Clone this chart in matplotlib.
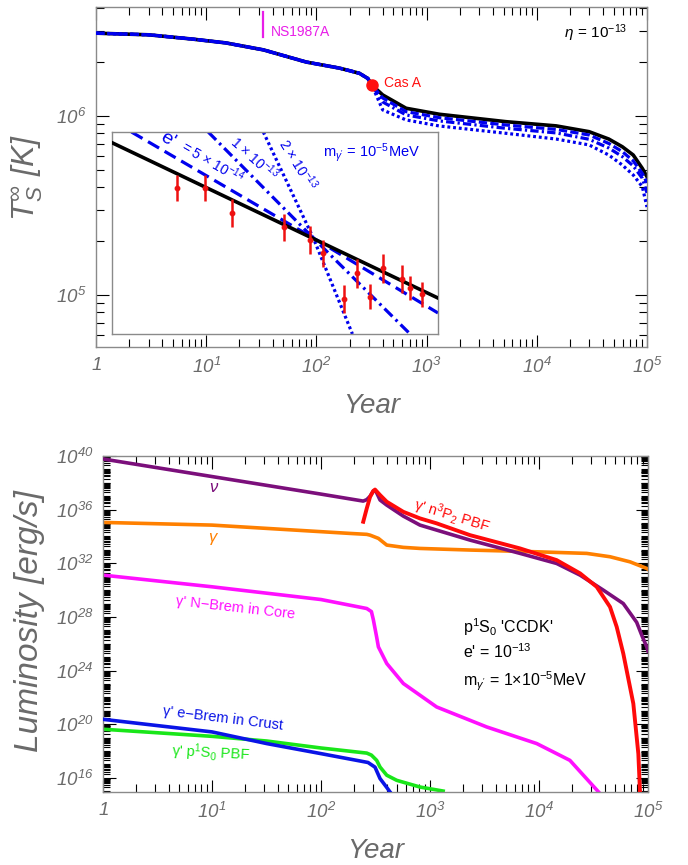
import numpy as np
import matplotlib
matplotlib.use("Agg")
import matplotlib.pyplot as plt
from matplotlib.ticker import FixedLocator, LogLocator, NullFormatter, FuncFormatter

plt.rcParams['font.family'] = ['Liberation Sans', 'DejaVu Sans']
plt.rcParams['mathtext.fontset'] = 'custom'
plt.rcParams['mathtext.rm'] = 'Liberation Sans'
plt.rcParams['mathtext.it'] = 'Liberation Sans:italic'
plt.rcParams['mathtext.sf'] = 'Liberation Sans:italic'
plt.rcParams['mathtext.bf'] = 'Liberation Sans:bold'

GRAY = '#6a6a6a'
FRAME = '#8a8a8a'

# ---------------- top panel: surface temperature vs age
t_early = [1, 3, 7.4, 15, 33, 81, 162, 200, 246, 293]
T_early = [2.90e6, 2.84e6, 2.69e6, 2.56e6, 2.34e6, 2.00e6, 1.85e6, 1.79e6, 1.73e6, 1.62e6]
t_late = [318, 400, 652, 1306, 5250, 15000, 29800, 45000, 59700, 75000, 90600, 1e5]
T_black = [1.49e6, 1.31e6, 1.104e6, 1.022e6, 0.929e6, 0.88e6, 0.817e6, 0.743e6, 0.673e6, 0.605e6, 0.51e6, 0.458e6]
T_e5e14 = [1.49e6, 1.26e6, 1.057e6, 0.978e6, 0.89e6, 0.841e6, 0.783e6, 0.702e6, 0.632e6, 0.561e6, 0.478e6, 0.423e6]
T_e1e13 = [1.49e6, 1.197e6, 1.013e6, 0.938e6, 0.853e6, 0.804e6, 0.741e6, 0.662e6, 0.593e6, 0.526e6, 0.449e6, 0.372e6]
T_e2e13 = [1.49e6, 1.08e6, 0.95e6, 0.879e6, 0.80e6, 0.743e6, 0.689e6, 0.605e6, 0.532e6, 0.468e6, 0.403e6, 0.31e6]

casa_age, casa_T = 318, 1.49e6
ns1987a_age = 33
ns1987a_T = [2.76e6, 3.81e6]

# inset (relative temperature, arbitrary units)
in_t_black = [1.4, 1250]
in_T_black = [94.7, 17.8]
in_t_5e14 = [2.1, 93, 1250]
in_T_5e14 = [100, 47.5, 10.4]
in_t_1e13 = [10.4, 93, 699]
in_T_1e13 = [100, 47.5, 0]
in_t_2e13 = [32.8, 93, 210]
in_T_2e13 = [100, 47.5, 0]
obs_t = [5.45, 9.7, 17.1, 50.8, 86.7, 113, 177, 230, 303, 395, 595, 699, 903]
obs_T = [72.4, 72.4, 59.8, 52.8, 46.5, 40.0, 17.3, 30.0, 18.5, 32.5, 27.2, 22.9, 19.7]
obs_err = [6.4, 6.4, 6.8, 6.8, 7.0, 6.7, 6.8, 7.0, 6.2, 7.3, 7.1, 6.0, 6.2]

# ---------------- bottom panel: luminosities (log10 erg/s)
t_nu = [1, 10, 100, 244, 263, 282, 302, 320, 348, 401, 569, 809, 2330, 6700, 14500,
        23800, 38900, 59300, 78700, 88000, 97300, 1e5]
L_nu = [39.78, 38.47, 37.16, 36.64, 36.75, 37.0, 37.4, 37.35, 36.72, 36.34, 35.52, 34.85,
        33.73, 32.74, 31.99, 31.12, 30.0, 29.0, 27.6, 26.6, 25.77, 25.45]
t_n3p2 = [244, 263, 282, 302, 313, 348, 401, 569, 809, 1150, 2330, 6700, 14500, 23800,
          33800, 44800, 51600, 59300, 73300, 81500, 84500]
L_n3p2 = [35.1, 36.1, 36.96, 37.4, 37.5, 37.09, 36.59, 35.84, 35.35, 34.98, 34.1, 33.11,
          32.24, 31.25, 30.25, 28.75, 27.26, 25.27, 21.54, 17.8, 14.85]
t_gam = [1, 10, 184, 263, 282, 336, 401, 569, 809, 2330, 9530, 27400, 44800, 68400, 97300, 1e5]
L_gam = [35.05, 34.85, 34.23, 34.16, 34.1, 33.86, 33.36, 33.19, 33.11, 32.99, 32.86, 32.74,
         32.49, 32.11, 31.62, 31.55]
t_core = [1, 10, 100, 263, 290, 302, 324, 336, 401, 569, 1150, 3310, 9530, 19200, 36300]
L_core = [31.12, 30.25, 29.3, 28.63, 28.4, 27.8, 26.5, 25.77, 24.53, 23.04, 21.29, 19.8,
          18.56, 17.31, 14.83]
t_crust = [1, 10, 31.8, 100, 270, 313, 348, 400, 430]
L_crust = [20.37, 19.43, 18.56, 17.81, 17.15, 16.8, 15.95, 15.3, 14.95]
t_p1s0 = [1, 10, 31.8, 100, 263, 290, 324, 348, 401, 495, 809, 1320]
L_p1s0 = [19.63, 19.1, 18.75, 18.23, 17.85, 17.7, 17.31, 16.81, 16.2, 15.82, 15.32, 15.02]


def pow10_label(v, pos):
    e = int(round(np.log10(v)))
    if e == 0:
        return r'$\mathsf{1}$'
    return r'$\mathsf{10^{%d}}$' % e


def style_axes(ax):
    for s in ax.spines.values():
        s.set_color(FRAME)
        s.set_linewidth(1.0)
    ax.tick_params(which='both', direction='in', top=True, right=True, color='black',
                   labelcolor=GRAY, labelsize=13.5, width=0.8)
    ax.tick_params(which='major', length=9, pad=7)
    ax.tick_params(which='minor', length=5.5)
    ax.xaxis.set_major_locator(FixedLocator([1, 10, 100, 1e3, 1e4, 1e5]))
    ax.xaxis.set_minor_locator(LogLocator(base=10, subs=np.arange(2, 10), numticks=50))
    ax.xaxis.set_major_formatter(FuncFormatter(pow10_label))
    ax.xaxis.set_minor_formatter(NullFormatter())
    ax.set_xlim(1, 1e5)


fig = plt.figure(figsize=(6.88, 8.65), dpi=100)

# ---------------- top
ax1 = fig.add_axes([0.1395, 0.5988, 0.8009, 0.3931])
ax1.set_xscale('log')
ax1.set_yscale('log')
style_axes(ax1)
ax1.set_ylim(5.12e4, 4.06e6)
ax1.yaxis.set_major_locator(FixedLocator([1e5, 1e6]))
ax1.yaxis.set_minor_locator(LogLocator(base=10, subs=np.arange(2, 10), numticks=50))
ax1.yaxis.set_major_formatter(FuncFormatter(pow10_label))
ax1.yaxis.set_minor_formatter(NullFormatter())

ax1.plot(t_early + t_late, T_early + T_black, color='black', lw=2.6, zorder=2)
ax1.plot(t_early + t_late, T_early + T_e5e14, color='#0000ee', lw=2.3, ls=(0, (2.6, 1.0)), zorder=3)
ax1.plot(t_early + t_late, T_early + T_e1e13, color='#0000ee', lw=2.3, ls=(0, (2.6, 1.0, 0.7, 1.0)), zorder=3)
ax1.plot(t_early + t_late, T_early + T_e2e13, color='#0000ee', lw=2.3, ls=(0, (0.9, 0.9)), zorder=3)
ax1.plot([casa_age], [casa_T], 'o', color='#ff1010', ms=8, zorder=5)
ax1.text(415, 1.52e6, 'Cas A', color='#ff1010', fontsize=10, va='center', ha='left')
ax1.plot([ns1987a_age, ns1987a_age], ns1987a_T, color='#e81ee8', lw=1.6)
ax1.text(39, 2.96e6, 'NS1987A', color='#e81ee8', fontsize=10, va='center', ha='left')
ax1.text(0.964, 0.924, r'$\eta\,=\,10^{-13}$', transform=ax1.transAxes, fontsize=11,
         ha='right', va='center', color='black')

ax1.set_xlabel('Year', fontsize=20, style='italic', color=GRAY)
ax1.xaxis.set_label_coords(0.5, -0.135)
ax1.set_ylabel(r'$\mathsf{T_S^{\infty}\ [K]}$', fontsize=23, color=GRAY)
ax1.yaxis.set_label_coords(-0.093, 0.5)

# inset
axi = fig.add_axes([0.1628, 0.6139, 0.4738, 0.2335])
axi.set_xscale('log')
axi.set_xlim(1.4, 1250)
axi.set_ylim(0, 100)
axi.set_xticks([])
axi.set_yticks([])
axi.minorticks_off()
for s in axi.spines.values():
    s.set_color(FRAME)
    s.set_linewidth(1.0)
axi.plot(in_t_black, in_T_black, color='black', lw=2.6, zorder=3)
axi.plot(in_t_5e14, in_T_5e14, color='#0000ee', lw=2.3, ls=(0, (4.0, 2.0)), zorder=2)
axi.plot(in_t_1e13, in_T_1e13, color='#0000ee', lw=2.3, ls=(0, (3.5, 1.4, 0.8, 1.4)), zorder=2)
axi.plot(in_t_2e13, in_T_2e13, color='#0000ee', lw=2.3, ls=(0, (0.9, 0.9)), zorder=2)
axi.errorbar(obs_t, obs_T, yerr=obs_err, fmt='o', color='#ee1111', ms=3.2, elinewidth=1.8,
             capsize=0, zorder=4)
axi.text(0.172, 0.962, "e'", transform=axi.transAxes, color='#0000ee', fontsize=14,
         rotation=-30, ha='center', va='center')
axi.text(0.31, 0.85, r'= 5 $\times$ 10$^{-14}$', transform=axi.transAxes, color='#0000ee',
         fontsize=10, rotation=-30, ha='center', va='center')
axi.text(0.436, 0.871, r'1 $\times$ 10$^{-13}$', transform=axi.transAxes, color='#0000ee',
         fontsize=10, rotation=-42, ha='center', va='center')
axi.text(0.571, 0.842, r'2 $\times$ 10$^{-13}$', transform=axi.transAxes, color='#0000ee',
         fontsize=10, rotation=-58, ha='center', va='center')
axi.text(0.647, 0.896, r"m$_{\gamma'}$ = 10$^{-5}$MeV", transform=axi.transAxes,
         color='#0000ee', fontsize=10.5, ha='left', va='center')

# ---------------- bottom
ax2 = fig.add_axes([0.1497, 0.0844, 0.7922, 0.3884])
ax2.set_xscale('log')
ax2.set_yscale('log')
style_axes(ax2)
ax2.set_ylim(10 ** 14.95, 1e40)
ax2.yaxis.set_major_locator(FixedLocator([1e16, 1e20, 1e24, 1e28, 1e32, 1e36, 1e40]))
ax2.yaxis.set_minor_locator(LogLocator(base=10, subs=np.arange(1, 10), numticks=200))
ax2.yaxis.set_major_formatter(FuncFormatter(pow10_label))
ax2.yaxis.set_minor_formatter(NullFormatter())
ax2.tick_params(axis='y', which='major', length=9)
ax2.tick_params(axis='y', which='minor', length=5)

lum = lambda L: [10 ** v for v in L]
ax2.plot(t_nu, lum(L_nu), color='#7b0f7b', lw=2.6, zorder=3)
ax2.plot(t_n3p2, lum(L_n3p2), color='#ff0a0a', lw=2.8, zorder=4)
ax2.plot(t_gam, lum(L_gam), color='#ff8000', lw=2.6, zorder=2)
ax2.plot(t_core, lum(L_core), color='#ff10ff', lw=2.6, zorder=2)
ax2.plot(t_p1s0, lum(L_p1s0), color='#19e619', lw=2.6, zorder=2)
ax2.plot(t_crust, lum(L_crust), color='#0a14e6', lw=2.6, zorder=3)

ax2.text(10.2, 10 ** 37.69, 'ν', color='#7b0f7b', fontsize=12, style='italic', ha='center', va='center')
ax2.text(10, 10 ** 33.96, 'γ', color='#ff8000', fontsize=12, style='italic', ha='center', va='center')
ax2.text(16.3, 10 ** 28.7, "γ' N−Brem in Core", color='#ff10ff', fontsize=10.5,
         rotation=-6.5, ha='center', va='center')
ax2.text(1592, 10 ** 35.52, r"γ' n$^3$P$_2$ PBF", color='#ff0a0a', fontsize=10.5,
         rotation=-17, ha='center', va='center')
ax2.text(12.6, 10 ** 20.45, "γ' e−Brem in Crust", color='#0a14e6', fontsize=10.5,
         rotation=-7, ha='center', va='center')
ax2.text(9.8, 10 ** 17.84, r"γ' p$^1$S$_0$ PBF", color='#19e619', fontsize=10.5,
         rotation=-3, ha='center', va='center')
ax2.text(0.66, 0.492, r"p$^1$S$_0$ 'CCDK'", transform=ax2.transAxes, fontsize=11.5,
         ha='left', va='center')
ax2.text(0.66, 0.418, r"e' = 10$^{-13}$", transform=ax2.transAxes, fontsize=11.5,
         ha='left', va='center')
ax2.text(0.66, 0.328, r"m$_{\gamma'}$ = 1$\times$10$^{-5}$MeV", transform=ax2.transAxes,
         fontsize=11.5, ha='left', va='center')

ax2.set_xlabel('Year', fontsize=20, style='italic', color=GRAY)
ax2.xaxis.set_label_coords(0.5, -0.137)
ax2.set_ylabel('Luminosity [erg/s]', fontsize=24, style='italic', color=GRAY)
ax2.yaxis.set_label_coords(-0.106, 0.51)

fig.savefig('out.png', dpi=100)
